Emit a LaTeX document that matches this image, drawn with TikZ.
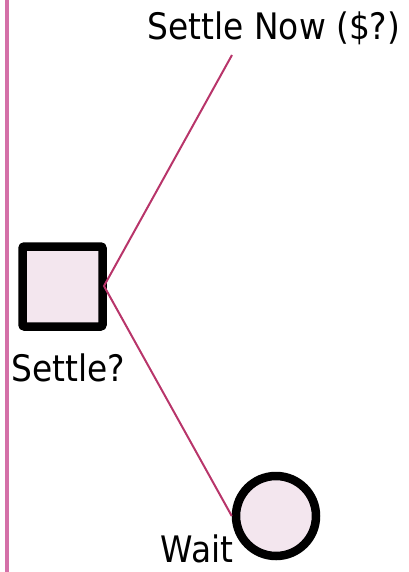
\documentclass[tikz,border=0pt]{standalone}
\usepackage{fontspec}
\setmainfont{DejaVu Sans Condensed}
\definecolor{rail}{HTML}{D470A8}
\definecolor{branch}{HTML}{B8356A}
\definecolor{nodefill}{HTML}{F3E6EE}
\tikzset{
  decision/.style={draw=black, line width=8.5pt, fill=nodefill, rounded corners=2pt,
    minimum size=80pt, inner sep=0pt},
  chance/.style={draw=black, line width=8.5pt, fill=nodefill, circle,
    minimum size=80pt, inner sep=0pt},
  branchline/.style={draw=branch, line width=2pt},
  label/.style={font=\fontsize{36.5}{42}\selectfont, inner sep=0pt, text=black}
}
\begin{document}
\begin{tikzpicture}[x=1pt, y=-1pt]
  \useasboundingbox (0,0) rectangle (408,572);
  % vertical rail on the left
  \coordinate (railtop) at (7,0);
  \coordinate (railbot) at (7,572);
  \draw[rail, line width=4pt] (railtop) -- (railbot);
  % tree nodes
  \node[decision] (settle) at (62.5,286.5) {};
  \node[chance] (wait) at (276,516) {};
  \coordinate (nowend) at (232,55);
  % labels
  \node[label] (nowlabel) at (274,28) {Settle Now (\$?)};
  \node[label] (settlelabel) at (68,368) {Settle?};
  \node[label] (waitlabel) at (197,549) {Wait};
  % branches
  \coordinate (fork) at (104,286);
  \draw[branchline] (nowend) -- (fork) -- (wait.west);
\end{tikzpicture}
\end{document}
